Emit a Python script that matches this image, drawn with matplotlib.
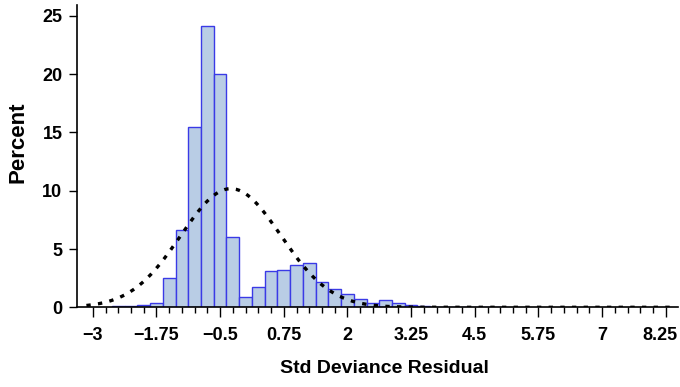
import numpy as np
import matplotlib
matplotlib.use("Agg")
import matplotlib.pyplot as plt
import matplotlib.transforms as mtransforms

# histogram of std deviance residuals, bin width 0.25 (percent)
bin_centers = [-2.5, -2.25, -2.0, -1.75, -1.5, -1.25, -1.0, -0.75, -0.5, -0.25,
               0.0, 0.25, 0.5, 0.75, 1.0, 1.25, 1.5, 1.75, 2.0, 2.25,
               2.5, 2.75, 3.0, 3.25, 3.5, 3.75, 4.0, 4.25, 4.5, 4.75, 5.0]
percent = [0.07, 0.07, 0.16, 0.4, 2.55, 6.65, 15.5, 24.1, 20.0, 6.06,
           0.9, 1.75, 3.09, 3.18, 3.67, 3.77, 2.18, 1.53, 1.12, 0.7,
           0.34, 0.6, 0.34, 0.17, 0.09, 0.03, 0.02, 0.02, 0.01, 0.01, 0.05]
bin_width = 0.25

# fitted normal curve parameters
mu = -0.29
sigma = 0.98

xtick_vals = [-3, -1.75, -0.5, 0.75, 2, 3.25, 4.5, 5.75, 7, 8.25]
xtick_labels = ["\u22123", "\u22121.75", "\u22120.5", "0.75", "2", "3.25", "4.5", "5.75", "7", "8.25"]
ytick_vals = [0, 5, 10, 15, 20, 25]

plt.rcParams['font.family'] = ['Liberation Sans', 'DejaVu Sans']
plt.rcParams['font.weight'] = 'bold'

fig = plt.figure(figsize=(6.8, 3.87), dpi=100)
ax = fig.add_axes([77/680, 1 - 307.3/387, 601/680, 302.3/387])

ax.bar(bin_centers, percent, width=bin_width, color='#b9cde5',
       edgecolor='#3a3ae6', linewidth=1.0, zorder=2)

xs = np.linspace(-3.125, 8.375, 400)
ys = 100 * bin_width / (sigma * np.sqrt(2 * np.pi)) * np.exp(-0.5 * ((xs - mu) / sigma) ** 2)
ax.plot(xs, ys, color='black', linestyle=(0, (1.3, 2.2)), linewidth=2.4,
        dash_capstyle='butt', zorder=3)

ax.set_xlim(-3.31, 8.49)
ax.set_ylim(0, 25.93)

ax.set_xticks(xtick_vals)
ax.set_xticklabels(xtick_labels)
ax.set_xticks(np.arange(-3, 8.26, 0.25), minor=True)
ax.set_yticks(ytick_vals)

ax.tick_params(axis='x', which='major', length=7.5, width=1, pad=7, labelsize=13)
ax.tick_params(axis='x', which='minor', length=4.5, width=1)
ax.tick_params(axis='y', which='major', length=5.5, width=1, pad=5, labelsize=13)

# last label sits against the right edge
lbl = ax.get_xticklabels()[-1]
lbl.set_transform(lbl.get_transform() + mtransforms.ScaledTranslation(-4/72, 0, fig.dpi_scale_trans))

for s in ['top', 'right']:
    ax.spines[s].set_visible(False)
for s in ['left', 'bottom']:
    ax.spines[s].set_linewidth(1.2)

ax.set_xlabel("Std Deviance Residual", fontsize=14, fontweight='bold')
ax.set_ylabel("Percent", fontsize=16, fontweight='bold')
ax.xaxis.set_label_coords(0.512, -0.175)
ax.yaxis.set_label_coords(-0.08, 0.545)

fig.savefig("out.png", dpi=100)
